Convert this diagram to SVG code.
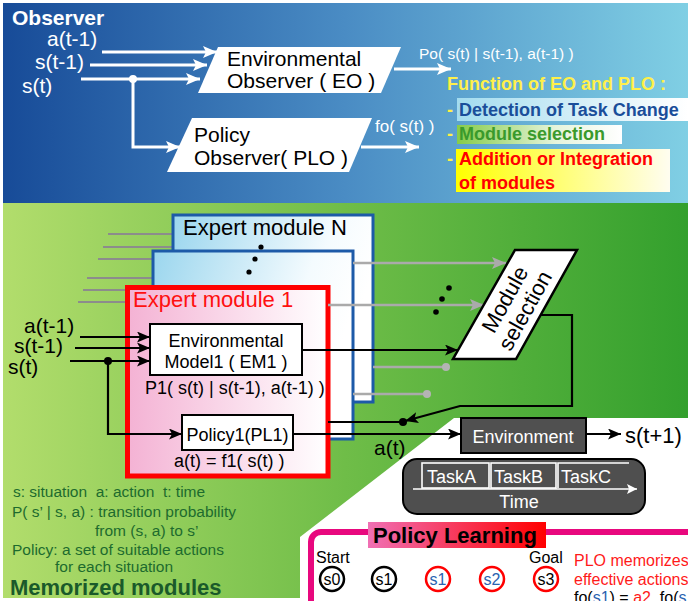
<svg xmlns="http://www.w3.org/2000/svg" width="688" height="601" viewBox="0 0 688 601">
<style>
text{font-family:"Liberation Sans",Arial,sans-serif}
.w{fill:#fff}
.b{fill:#000}
.bold{font-weight:bold}
.lg{fill:#1d6b2e;font-size:15.5px}
.wl{stroke:#fff;stroke-width:3;fill:none}
.bl{stroke:#000;stroke-width:2.2;fill:none}
.gl{stroke:#aaa;stroke-width:2.5;fill:none}
.st{stroke:#8c8c8c;stroke-width:2;fill:none}
.mod{stroke:#1d5aa8;stroke-width:3}
.box{fill:#fff;stroke:#000;stroke-width:2}
.tl{stroke:#fff;stroke-width:1.6;fill:none}
</style>
<defs>
<linearGradient id="gTop" x1="0" y1="0" x2="1" y2="0">
<stop offset="0" stop-color="#174b98"/><stop offset="0.5" stop-color="#4a8cc4"/><stop offset="1" stop-color="#80cfe4"/>
</linearGradient>
<linearGradient id="gGreen" x1="0" y1="0" x2="1" y2="0">
<stop offset="0" stop-color="#b2dd6c"/><stop offset="0.5" stop-color="#6fbd48"/><stop offset="1" stop-color="#33a02d"/>
</linearGradient>
<linearGradient id="gBlue" x1="0" y1="0" x2="1" y2="0.3">
<stop offset="0" stop-color="#9bd6ee"/><stop offset="0.75" stop-color="#f4fbfe"/><stop offset="1" stop-color="#fff"/>
</linearGradient>
<linearGradient id="gPink" x1="0" y1="0" x2="1" y2="0">
<stop offset="0" stop-color="#f4b2d4"/><stop offset="1" stop-color="#fff"/>
</linearGradient>
<linearGradient id="gDet" x1="0" y1="0" x2="1" y2="0">
<stop offset="0" stop-color="#a3dcef"/><stop offset="1" stop-color="#fff"/>
</linearGradient>
<linearGradient id="gSel" x1="0" y1="0" x2="1" y2="0">
<stop offset="0" stop-color="#86cc4a"/><stop offset="0.6" stop-color="#e6f4dc"/><stop offset="1" stop-color="#fff"/>
</linearGradient>
<linearGradient id="gAdd" x1="0" y1="0" x2="1" y2="0">
<stop offset="0" stop-color="#ffff00"/><stop offset="1" stop-color="#fffdf0"/>
</linearGradient>
<linearGradient id="gPL" x1="0" y1="0" x2="1" y2="0">
<stop offset="0" stop-color="#f070b4"/><stop offset="1" stop-color="#ff0000"/>
</linearGradient>
<marker id="aw" viewBox="0 0 14 12" refX="14" refY="6" markerWidth="14" markerHeight="12" orient="auto" markerUnits="userSpaceOnUse"><path d="M0,0 L14,6 L0,12 L3,6 z" fill="#fff"/></marker>
<marker id="ab" viewBox="0 0 13 11" refX="13" refY="5.5" markerWidth="13" markerHeight="11" orient="auto" markerUnits="userSpaceOnUse"><path d="M0,0 L13,5.5 L0,11 L3,5.5 z" fill="#000"/></marker>
<marker id="ag" viewBox="0 0 14 12" refX="14" refY="6" markerWidth="14" markerHeight="12" orient="auto" markerUnits="userSpaceOnUse"><path d="M0,0 L14,6 L0,12 L3,6 z" fill="#aaa"/></marker>
<marker id="awt" viewBox="0 0 10 10" refX="10" refY="5" markerWidth="10" markerHeight="10" orient="auto" markerUnits="userSpaceOnUse"><path d="M0,0 L10,5 L0,10 L2,5 z" fill="#fff"/></marker>
</defs>

<!-- backgrounds -->
<rect x="3" y="3" width="685" height="200" fill="url(#gTop)"/>
<rect x="3" y="203" width="685" height="395" fill="url(#gGreen)"/>
<polygon points="454,418 688,418 688,601 300,601 300,537" fill="#fff"/>

<!-- Observer panel nodes -->
<text x="12" y="25" class="w bold" font-size="21">Observer</text>
<g id="EO">
<polygon points="218,47 401,47 381,93 198,93" fill="#fff"/>
<text x="227" y="66" class="b" font-size="21">Environmental</text>
<text x="227" y="88" class="b" font-size="21">Observer ( EO )</text>
</g>
<g id="PLO">
<polygon points="192,118 372,118 349,172 167,172" fill="#fff"/>
<text x="194" y="142" class="b" font-size="21">Policy</text>
<text x="194" y="165" class="b" font-size="21">Observer( PLO )</text>
</g>
<g id="observer-inputs">
<text x="47" y="46" class="w" font-size="21">a(t-1)</text>
<text x="35" y="69" class="w" font-size="21">s(t-1)</text>
<text x="22" y="93" class="w" font-size="21">s(t)</text>
</g>
<text x="419" y="59" class="w" font-size="15.5">Po( s(t) | s(t-1), a(t-1) )</text>
<text x="375" y="132" class="w" font-size="17">fo( s(t) )</text>
<g id="function-list">
<text x="447" y="90" fill="#fff04a" class="bold" font-size="18">Function of EO and PLO :</text>
<rect x="457" y="98" width="231" height="23" fill="url(#gDet)"/>
<rect x="457" y="125" width="165" height="19" fill="url(#gSel)"/>
<rect x="456" y="149" width="214" height="43" fill="url(#gAdd)"/>
<text x="447" y="116" fill="#fff04a" class="bold" font-size="18">-</text>
<text x="447" y="140" fill="#fff04a" class="bold" font-size="18">-</text>
<text x="447" y="165" fill="#fff04a" class="bold" font-size="18">-</text>
<text x="459" y="116" fill="#1a4e9a" class="bold" font-size="18">Detection of Task Change</text>
<text x="459" y="140" fill="#3a9a2c" class="bold" font-size="18">Module selection</text>
<text x="459" y="165" fill="#ff0000" class="bold" font-size="18">Addition or Integration</text>
<text x="459" y="189" fill="#ff0000" class="bold" font-size="18">of modules</text>
</g>

<!-- left gray stubs -->
<g id="stubs">
<line x1="108" y1="234" x2="173" y2="234" class="st"/>
<line x1="103" y1="247" x2="173" y2="247" class="st"/>
<line x1="98" y1="259" x2="153" y2="259" class="st"/>
<line x1="87" y1="278" x2="153" y2="278" class="st"/>
<line x1="83" y1="290" x2="127" y2="290" class="st"/>
<line x1="78" y1="302" x2="127" y2="302" class="st"/>
</g>

<g id="moduleN">
<rect x="173" y="215" width="200" height="187" fill="url(#gBlue)" class="mod"/>
<text x="183" y="235" class="b" font-size="22">Expert module N</text>
</g>
<g id="module2">
<rect x="153" y="251" width="200" height="188" fill="url(#gBlue)" class="mod"/>
</g>
<g id="module1">
<rect x="127.5" y="287.5" width="200.5" height="188.5" fill="url(#gPink)" stroke="#ff0000" stroke-width="5"/>
<text x="133" y="307" fill="#ff1010" font-size="22">Expert module 1</text>
<text x="145" y="394" class="b" font-size="18">P1( s(t) | s(t-1), a(t-1) )</text>
<text x="174" y="467" class="b" font-size="18">a(t) = f1( s(t) )</text>
</g>
<g id="EM1">
<rect x="150" y="324" width="152" height="51" class="box"/>
<text x="226" y="347" class="b" font-size="18" text-anchor="middle">Environmental</text>
<text x="226" y="368" class="b" font-size="18" text-anchor="middle">Model1 ( EM1 )</text>
</g>
<g id="PL1">
<rect x="182" y="415" width="111" height="35" class="box"/>
<text x="237.5" y="441" class="b" font-size="18" text-anchor="middle">Policy1(PL1)</text>
</g>

<!-- connectors -->
<g id="connectors">
<line x1="102" y1="52" x2="217" y2="52" class="wl" marker-end="url(#aw)"/>
<line x1="90" y1="65" x2="207" y2="65" class="wl" marker-end="url(#aw)"/>
<line x1="81" y1="79" x2="200" y2="79" class="wl" marker-end="url(#aw)"/>
<polyline points="133,79 133,147 180,147" class="wl" marker-end="url(#aw)"/>
<circle cx="133" cy="79" r="4" fill="#fff"/>
<line x1="394" y1="69" x2="451" y2="69" class="wl" marker-end="url(#aw)"/>
<line x1="361" y1="147" x2="419" y2="147" class="wl" marker-end="url(#aw)"/>

<line x1="80" y1="337" x2="150" y2="337" class="bl" marker-end="url(#ab)"/>
<line x1="75" y1="348" x2="150" y2="348" class="bl" marker-end="url(#ab)"/>
<line x1="70" y1="361" x2="150" y2="361" class="bl" marker-end="url(#ab)"/>
<polyline points="108,361 108,434 182,434" class="bl" marker-end="url(#ab)"/>
<circle cx="108" cy="361" r="4" fill="#000"/>

<line x1="302" y1="350" x2="458" y2="350" class="bl" marker-end="url(#ab)"/>
<line x1="353" y1="263" x2="506" y2="263" class="gl" marker-end="url(#ag)"/>
<line x1="328" y1="305" x2="484" y2="305" class="gl" marker-end="url(#ag)"/>
<line x1="373" y1="367" x2="446" y2="367" class="gl"/>
<circle cx="446" cy="367" r="4" fill="#b4b4b4"/>
<line x1="353" y1="394" x2="427" y2="394" class="gl"/>
<circle cx="427" cy="394" r="4" fill="#b4b4b4"/>

<polyline points="540,315 572,315 572,406 460,406 405,421" class="bl" marker-end="url(#ab)"/>
<line x1="328" y1="422" x2="403" y2="422" class="bl"/>
<circle cx="403" cy="422" r="4" fill="#000"/>
<line x1="293" y1="434" x2="461" y2="434" class="bl" marker-end="url(#ab)"/>
<line x1="586" y1="434" x2="621" y2="434" class="bl" marker-end="url(#ab)"/>
</g>

<g id="dots">
<circle cx="261" cy="247" r="2.6" fill="#000"/>
<circle cx="255" cy="259" r="2.6" fill="#000"/>
<circle cx="249" cy="272" r="2.6" fill="#000"/>
<circle cx="449" cy="288" r="2.8" fill="#000"/>
<circle cx="442" cy="299" r="2.8" fill="#000"/>
<circle cx="436" cy="312" r="2.8" fill="#000"/>
</g>

<g id="inputs-labels">
<text x="24" y="333" class="b" font-size="21">a(t-1)</text>
<text x="14" y="353" class="b" font-size="21">s(t-1)</text>
<text x="8" y="374" class="b" font-size="21">s(t)</text>
<text x="374" y="455" class="b" font-size="21">a(t)</text>
</g>

<g id="module-selection">
<polygon points="515,250 577,250 516,359 453,359" fill="#fff" stroke="#000" stroke-width="2.5"/>
<g transform="translate(515,305) rotate(-61)">
<text x="0" y="-4" class="b" font-size="22" text-anchor="middle">Module</text>
<text x="0" y="19" class="b" font-size="22" text-anchor="middle">selection</text>
</g>
</g>

<g id="environment">
<rect x="461" y="418" width="125" height="35" fill="#505050" stroke="#000" stroke-width="2"/>
<text x="523" y="443" class="w" font-size="18" text-anchor="middle">Environment</text>
</g>
<text x="625" y="443" class="b" font-size="22">s(t+1)</text>

<g id="timeline">
<rect x="403" y="459" width="242" height="55" rx="14" fill="#4f4f4f" stroke="#000" stroke-width="2"/>
<rect x="422" y="463" width="67" height="25" class="tl"/>
<rect x="491" y="463" width="65" height="25" class="tl"/>
<path d="M558,488 V463 H629" class="tl"/>
<line x1="413" y1="489" x2="637" y2="489" class="tl" marker-end="url(#awt)"/>
<text x="427" y="483" class="w" font-size="18">TaskA</text>
<text x="494" y="483" class="w" font-size="18">TaskB</text>
<text x="561" y="483" class="w" font-size="18">TaskC</text>
<text x="519" y="508" class="w" font-size="18" text-anchor="middle">Time</text>
</g>

<g id="legend">
<text x="13" y="497" class="lg" xml:space="preserve">s: situation  a: action  t: time</text>
<text x="12" y="517" class="lg">P( s’ | s, a) : transition probability</text>
<text x="95" y="536" class="lg">from (s, a) to s’</text>
<text x="12" y="555" class="lg">Policy: a set of suitable actions</text>
<text x="55" y="572" class="lg">for each situation</text>
<text x="10" y="595" fill="#1a5a2a" class="bold" font-size="22">Memorized modules</text>
</g>

<g id="policy-learning">
<rect x="311" y="532" width="400" height="100" rx="10" fill="#fff" stroke="#e8087e" stroke-width="6"/>
<rect x="368" y="522" width="178" height="26" fill="url(#gPL)"/>
<text x="373" y="543" class="b bold" font-size="22">Policy Learning</text>
<text x="316" y="563" class="b" font-size="16">Start</text>
<text x="529" y="563" class="b" font-size="16">Goal</text>
<circle cx="332" cy="579" r="12" fill="#fff" stroke="#000" stroke-width="2.5"/>
<text x="332" y="585" class="b" font-size="16" text-anchor="middle">s0</text>
<circle cx="384" cy="579" r="12" fill="#fff" stroke="#000" stroke-width="2.5"/>
<text x="384" y="585" class="b" font-size="16" text-anchor="middle">s1</text>
<circle cx="438" cy="579" r="12" fill="#fff" stroke="#ff0000" stroke-width="2.5"/>
<text x="438" y="585" fill="#2a62b0" font-size="16" text-anchor="middle">s1</text>
<circle cx="492" cy="579" r="12" fill="#fff" stroke="#ff0000" stroke-width="2.5"/>
<text x="492" y="585" fill="#2a62b0" font-size="16" text-anchor="middle">s2</text>
<circle cx="546" cy="579" r="12" fill="#fff" stroke="#ff0000" stroke-width="2.5"/>
<text x="546" y="585" class="b" font-size="16" text-anchor="middle">s3</text>
<text x="574" y="566" fill="#ff1a1a" font-size="16">PLO memorizes</text>
<text x="574" y="585" fill="#ff1a1a" font-size="16">effective actions</text>
<text x="574" y="603" class="b" font-size="16">fo(<tspan fill="#2a62b0">s1</tspan>) = <tspan fill="#ff1a1a">a2</tspan>, fo(<tspan fill="#2a62b0">s</tspan></text>
</g>
</svg>
